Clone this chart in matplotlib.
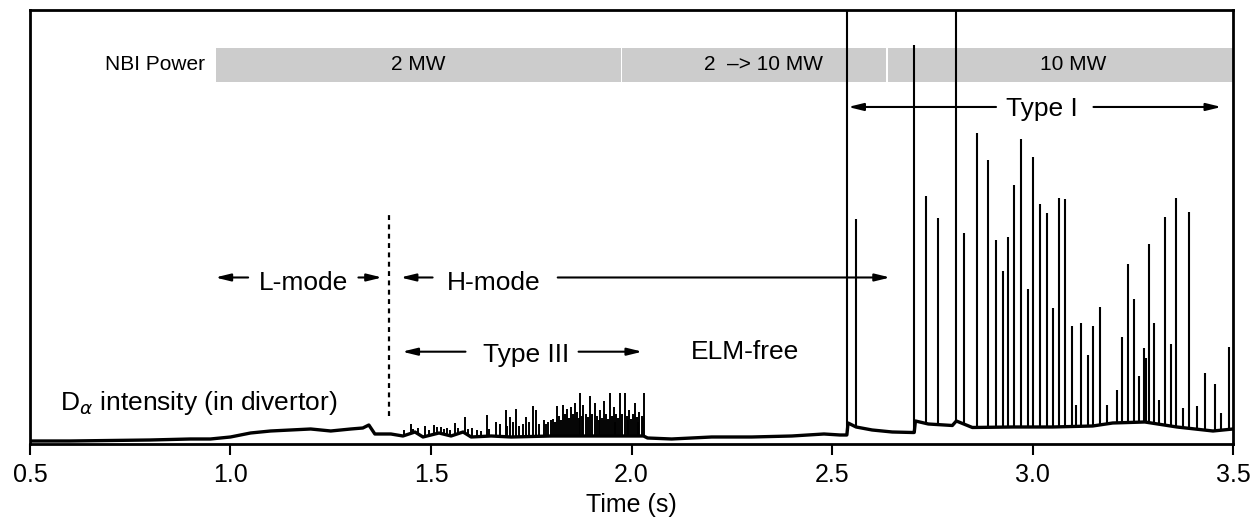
"""
D-alpha divertor trace with NBI power phases and ELM regimes.
"""
import matplotlib.pyplot as plt
import numpy as np

plt.rcParams['font.family'] = ['Liberation Sans', 'DejaVu Sans']
plt.rcParams['mathtext.fontset'] = 'dejavusans'

# baseline of the D-alpha signal (a.u.)
base_t = [0.50, 0.60, 0.70, 0.80, 0.90, 0.95, 1.00, 1.05, 1.10, 1.15, 1.20, 1.25,
          1.30, 1.33, 1.345, 1.36, 1.40, 1.43, 1.46, 1.48, 1.52, 1.55, 1.58, 1.60,
          1.65, 1.70, 1.80, 1.90, 2.00, 2.03, 2.04, 2.10, 2.20, 2.30, 2.40, 2.48,
          2.52, 2.537, 2.540, 2.56, 2.60, 2.65, 2.70, 2.705, 2.708, 2.74, 2.80,
          2.81, 2.85, 2.95, 3.05, 3.15, 3.20, 3.28, 3.36, 3.45, 3.50]
base_v = [0.03, 0.03, 0.035, 0.04, 0.05, 0.05, 0.07, 0.11, 0.13, 0.14, 0.15, 0.13,
          0.15, 0.16, 0.19, 0.10, 0.10, 0.08, 0.12, 0.07, 0.11, 0.08, 0.12, 0.07,
          0.08, 0.07, 0.08, 0.08, 0.08, 0.08, 0.06, 0.05, 0.07, 0.07, 0.08, 0.10,
          0.09, 0.09, 0.21, 0.17, 0.14, 0.12, 0.115, 0.115, 0.23, 0.20, 0.185,
          0.23, 0.165, 0.17, 0.17, 0.18, 0.21, 0.22, 0.17, 0.13, 0.15]

# Type III ELM bursts
t3_times = [1.449, 1.486, 1.507, 1.524, 1.540, 1.559, 1.584, 1.603, 1.639, 1.661,
            1.686, 1.697, 1.711, 1.738, 1.755, 1.763, 1.782, 1.798, 1.813, 1.828,
            1.838, 1.848, 1.858, 1.871, 1.880, 1.897, 1.908, 1.921, 1.931, 1.946,
            1.956, 1.971, 1.983, 1.994, 2.008, 2.019, 2.031,
            1.432, 1.455, 1.468, 1.495, 1.515, 1.532, 1.548, 1.568, 1.592, 1.615,
            1.625, 1.645, 1.672, 1.690, 1.705, 1.720, 1.730, 1.745, 1.770,
            1.792, 1.805, 1.818, 1.833, 1.843, 1.853, 1.864, 1.876, 1.886, 1.892,
            1.902, 1.914, 1.926, 1.937, 1.941, 1.951, 1.962, 1.966, 1.977, 1.988,
            1.999, 2.003, 2.013, 2.025,
            1.787, 1.809, 1.823, 1.868, 1.918, 1.959, 1.991, 2.016, 2.028]
t3_peaks = [0.20, 0.18, 0.19, 0.17, 0.16, 0.21, 0.27, 0.16, 0.29, 0.22,
            0.34, 0.27, 0.35, 0.27, 0.38, 0.34, 0.24, 0.24, 0.38, 0.39,
            0.35, 0.37, 0.41, 0.51, 0.39, 0.48, 0.41, 0.34, 0.43, 0.51,
            0.37, 0.51, 0.51, 0.34, 0.41, 0.32, 0.51,
            0.14, 0.15, 0.16, 0.14, 0.17, 0.15, 0.14, 0.16, 0.15, 0.14,
            0.13, 0.15, 0.20, 0.18, 0.22, 0.18, 0.20, 0.22, 0.20,
            0.22, 0.25, 0.28, 0.30, 0.26, 0.30, 0.32, 0.28, 0.30, 0.27,
            0.30, 0.28, 0.26, 0.30, 0.25, 0.28, 0.30, 0.26, 0.30, 0.28,
            0.25, 0.30, 0.27, 0.28,
            0.20, 0.22, 0.24, 0.26, 0.24, 0.22, 0.24, 0.22, 0.26]

# Type I ELMs
t1_times = [2.537, 2.560, 2.705, 2.735, 2.765, 2.810, 2.829, 2.862, 2.889, 2.909,
            2.926, 2.940, 2.955, 2.972, 2.989, 3.002, 3.019, 3.035, 3.051, 3.065,
            3.080, 3.098, 3.109, 3.122, 3.138, 3.152, 3.168, 3.185, 3.211, 3.224,
            3.238, 3.252, 3.265, 3.278, 3.284, 3.290, 3.303, 3.316, 3.330, 3.345,
            3.357, 3.375, 3.391, 3.411, 3.430, 3.455, 3.471, 3.490]
t1_peaks = [5.00, 2.25, 3.99, 2.48, 2.26, 5.00, 2.11, 3.11, 2.84, 2.04,
            1.73, 2.07, 2.59, 3.05, 1.55, 2.87, 2.40, 2.31, 1.36, 2.46,
            2.45, 1.18, 0.39, 1.21, 0.89, 1.18, 1.37, 0.39, 0.54, 1.07,
            1.80, 1.45, 0.68, 0.96, 0.86, 2.00, 1.21, 0.44, 2.27, 1.00,
            2.46, 0.36, 2.32, 0.38, 0.71, 0.60, 0.31, 0.97]

# NBI power phases
nbi_start = [0.964, 1.976, 2.640]
nbi_end = [1.973, 2.635, 3.500]
nbi_labels = ['2 MW', '2  –> 10 MW', '10 MW']
nbi_label_x = [1.469, 2.328, 3.102]

xticks = [0.5, 1.0, 1.5, 2.0, 2.5, 3.0, 3.5]

fig = plt.figure(figsize=(12.6, 5.25), dpi=100)
ax = fig.add_axes([0.0238, 0.1543, 0.9548, 0.8267])

ax.plot(base_t, base_v, color='black', linewidth=2.4, zorder=3)
ax.vlines(t3_times, np.interp(t3_times, base_t, base_v), t3_peaks,
          color='black', linewidth=1.4, zorder=3)
ax.vlines(t1_times, np.interp(t1_times, base_t, base_v), t1_peaks,
          color='black', linewidth=1.5, zorder=3)

# NBI bars
for s, e, lab, lx in zip(nbi_start, nbi_end, nbi_labels, nbi_label_x):
    ax.barh(3.79, e - s, left=s, height=0.34, color='#cccccc', zorder=1)
    ax.text(lx, 3.79, lab, ha='center', va='center', fontsize=15, zorder=2)
ax.text(0.937, 3.79, 'NBI Power', ha='right', va='center', fontsize=15)

# L/H transition
ax.vlines(1.395, 0.28, 2.29, color='black', linewidth=1.6,
          linestyles=(0, (2.2, 2.0)), zorder=2)


def arrow(x_tail, x_head, y):
    ax.annotate('', xy=(x_head, y), xytext=(x_tail, y),
                arrowprops=dict(arrowstyle='-|>,head_length=0.9,head_width=0.22',
                                color='black', linewidth=1.5,
                                shrinkA=0, shrinkB=0), zorder=4)


lab_fs = 19
ax.text(1.182, 1.54, 'L-mode', ha='center', va='baseline', fontsize=lab_fs)
arrow(1.044, 0.962, 1.665)
arrow(1.319, 1.378, 1.665)
ax.text(1.657, 1.54, 'H-mode', ha='center', va='baseline', fontsize=lab_fs)
arrow(1.504, 1.424, 1.665)
arrow(1.816, 2.645, 1.665)

ax.text(1.737, 0.823, 'Type III', ha='center', va='baseline', fontsize=lab_fs)
arrow(1.586, 1.428, 0.923)
arrow(1.868, 2.027, 0.923)

ax.text(2.282, 0.847, 'ELM-free', ha='center', va='baseline', fontsize=lab_fs)

ax.text(3.024, 3.28, 'Type I', ha='center', va='baseline', fontsize=lab_fs)
arrow(2.909, 2.540, 3.37)
arrow(3.152, 3.471, 3.37)

ax.text(0.575, 0.34, r'D$_\alpha$ intensity (in divertor)', ha='left',
        va='baseline', fontsize=lab_fs)

ax.set_xlim(0.5, 3.5)
ax.set_ylim(0, 4.34)
ax.set_xticks(xticks)
ax.set_xticklabels([f'{v:.1f}' for v in xticks])
ax.set_yticks([])
ax.tick_params(axis='x', direction='out', length=8, width=1.5,
               labelsize=18, pad=6)
for sp in ax.spines.values():
    sp.set_linewidth(2.0)
ax.set_xlabel('Time (s)', fontsize=18, labelpad=4)

plt.savefig('out.png', dpi=100)
plt.close()
